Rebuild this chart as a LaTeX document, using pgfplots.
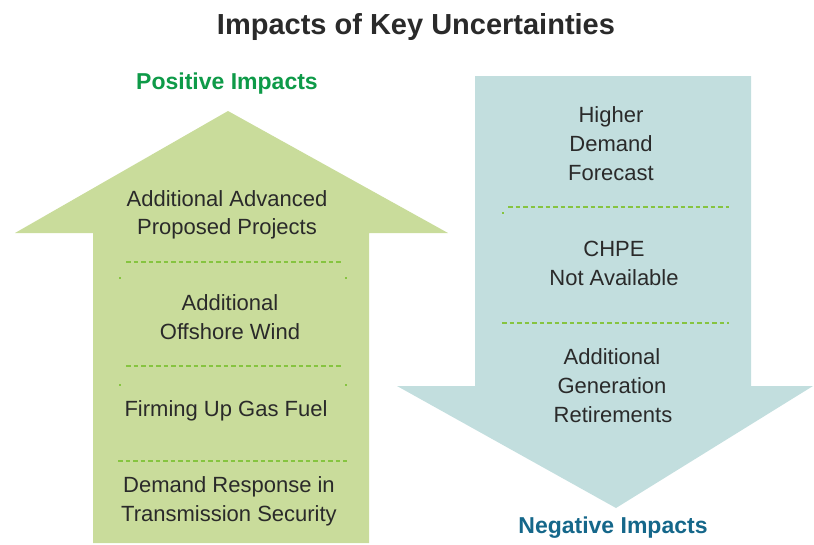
\documentclass[border=0pt]{standalone}
\usepackage{pgfplots}
\pgfplotsset{compat=1.18}
\usepackage{fontspec}
\setmainfont{Liberation Sans}
\definecolor{upgreen}{HTML}{C9DC9B}
\definecolor{downblue}{HTML}{C2DEDE}
\definecolor{dashgreen}{HTML}{86C440}
\definecolor{txt}{HTML}{2A2A2A}
\definecolor{posgreen}{HTML}{0E9A48}
\definecolor{negblue}{HTML}{15678A}
\begin{document}
\begin{tikzpicture}
\begin{axis}[
  x=1pt, y=1pt, y dir=reverse,
  xmin=0, xmax=814, ymin=0, ymax=544,
  hide axis, clip=false, scale only axis,
]
% bounding box
\addplot[draw=none] coordinates {(0,0) (814,544)};
% up arrow
\addplot[fill=upgreen, draw=none] coordinates {(93,543) (93,233) (15,233) (228,111) (448,233) (369,233) (369,543) (93,543)};
% down arrow
\addplot[fill=downblue, draw=none] coordinates {(475,76) (751,76) (751,386) (813,386) (616,508) (397,386) (475,386) (475,76)};
% dashed separators
\addplot[dashgreen, line width=1.2pt, dash pattern=on 4.5pt off 3pt] coordinates {(126,262) (342,262)};
\addplot[dashgreen, line width=1.2pt, dash pattern=on 4.5pt off 3pt] coordinates {(126,366) (342,366)};
\addplot[dashgreen, line width=1.2pt, dash pattern=on 4.5pt off 3pt] coordinates {(118,461) (347,461)};
\addplot[dashgreen, line width=1.2pt, dash pattern=on 4.5pt off 3pt] coordinates {(508,207) (729,207)};
\addplot[dashgreen, line width=1.2pt, dash pattern=on 4.5pt off 3pt] coordinates {(502,323) (729,323)};
% small dots
\addplot[dashgreen, line width=1.2pt] coordinates {(119,278) (121,278)};
\addplot[dashgreen, line width=1.2pt] coordinates {(345,278) (347,278)};
\addplot[dashgreen, line width=1.2pt] coordinates {(119,385) (121,385)};
\addplot[dashgreen, line width=1.2pt] coordinates {(345,385) (347,385)};
\addplot[dashgreen, line width=1.2pt] coordinates {(502,213) (504,213)};
% titles
\node[anchor=base, text=txt, font=\fontsize{29}{34}\selectfont\bfseries] at (axis cs:416,34) {Impacts of Key Uncertainties};
\node[anchor=base, text=posgreen, font=\fontsize{23}{28}\selectfont\bfseries] at (axis cs:227,89) {Positive Impacts};
\node[anchor=base, text=negblue, font=\fontsize{23}{28}\selectfont\bfseries] at (axis cs:613,533) {Negative Impacts};
% left texts
\begin{scope}[every node/.style={anchor=base, text=txt, font=\fontsize{22}{28}\selectfont}]
\node at (axis cs:227,206) {Additional Advanced};
\node at (axis cs:227,234) {Proposed Projects};
\node at (axis cs:230,310) {Additional};
\node at (axis cs:230,339) {Offshore Wind};
\node at (axis cs:226,416) {Firming Up Gas Fuel};
\node at (axis cs:229,492) {Demand Response in};
\node at (axis cs:229,521) {Transmission Security};
% right texts
\node at (axis cs:611,122) {Higher};
\node at (axis cs:611,151) {Demand};
\node at (axis cs:611,180) {Forecast};
\node at (axis cs:614,256) {CHPE};
\node at (axis cs:614,285) {Not Available};
\node at (axis cs:612,364) {Additional};
\node at (axis cs:612,393) {Generation};
\node at (axis cs:613,422) {Retirements};
\end{scope}
\end{axis}
\end{tikzpicture}
\end{document}
